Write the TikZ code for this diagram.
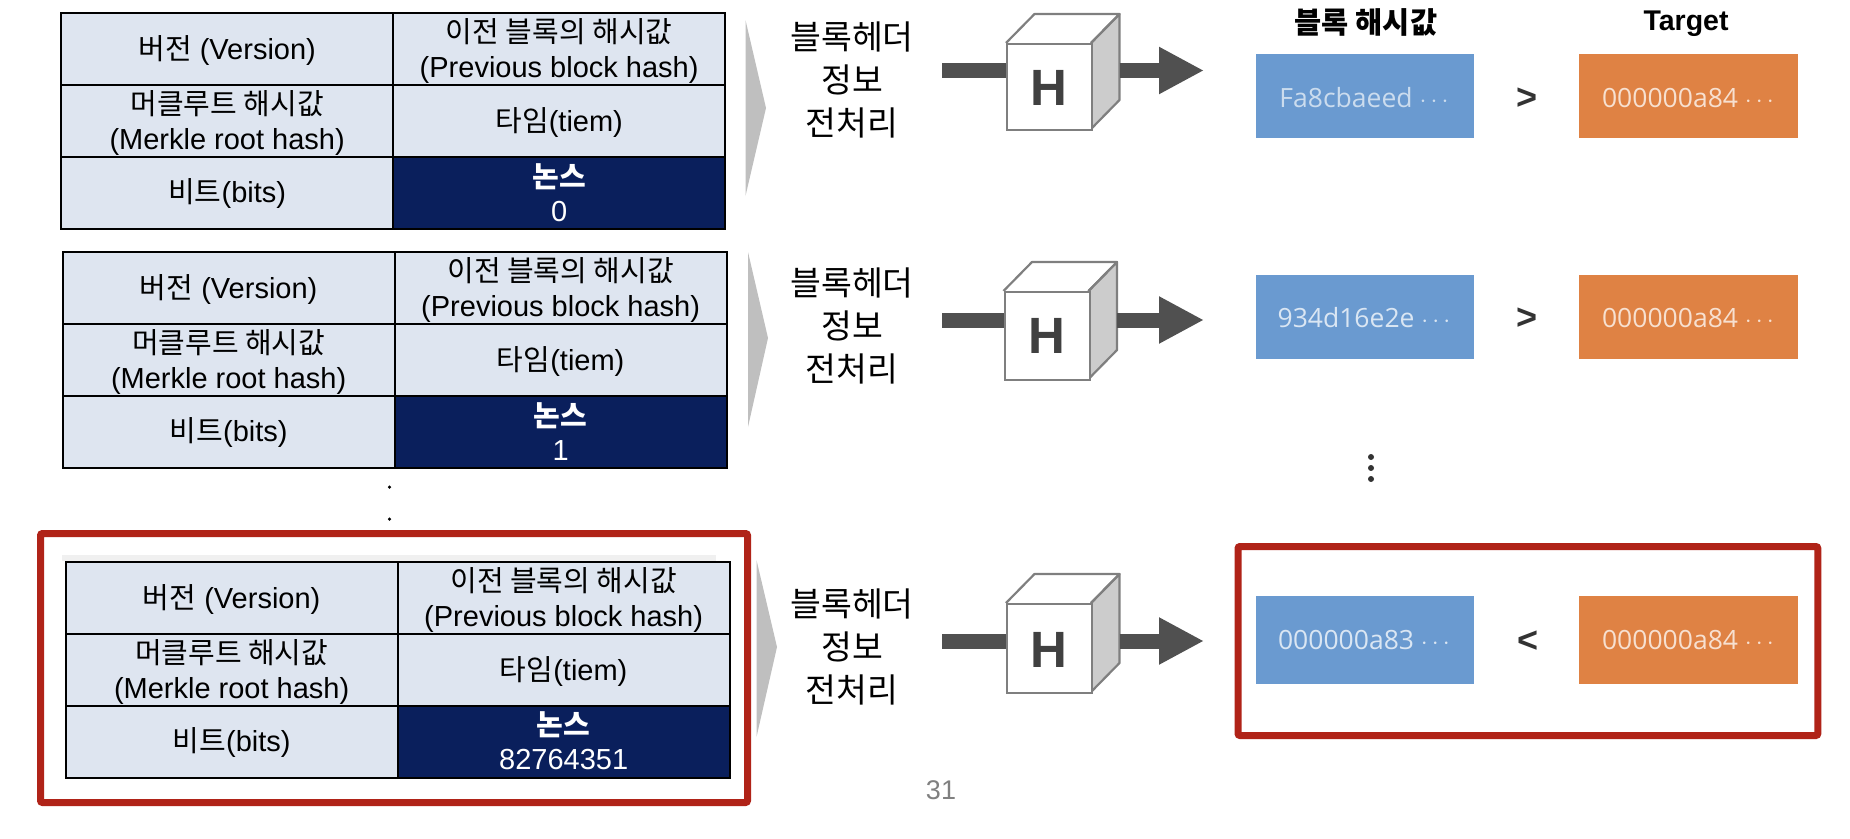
\documentclass[tikz,border=0pt]{standalone}
\usepackage{fontspec}
\setmainfont{Liberation Sans}
\newfontfamily\kr{Noto Sans CJK KR}
\newfontfamily\uif{Open Sans}
\usetikzlibrary{arrows.meta}
\definecolor{cellfill}{HTML}{DEE5F0}
\definecolor{noncefill}{HTML}{0A1F5C}
\definecolor{chev}{HTML}{BFBFBF}
\definecolor{barcol}{HTML}{505050}
\definecolor{cubeline}{HTML}{7F7F7F}
\definecolor{cubeside}{HTML}{CCCCCC}
\definecolor{hashblue}{HTML}{6A9AD0}
\definecolor{hashorange}{HTML}{DF8244}
\definecolor{redbox}{HTML}{B02318}
\tikzset{
  x=1pt,y=-1pt,
  cell/.style={draw=black,line width=2.3pt,fill=cellfill,minimum width=332pt,minimum height=72pt,inner sep=0pt,anchor=north west},
  nonce/.style={cell,fill=noncefill},
  celltext/.style={inner sep=0pt,align=center,font=\fontsize{29}{35}\selectfont},
  prep/.style={align=center,inner sep=0pt,font=\kr\fontsize{33.5}{43}\selectfont},
  cubeface/.style={draw=cubeline,line width=2.2pt,line join=round},
  bar/.style={draw=barcol,line width=15pt},
  bararrow/.style={bar,-{Triangle[length=45pt,width=44pt]}},
  hbox/.style={inner sep=0pt,minimum width=218.6pt,anchor=north west},
  hashtxt/.style={inner sep=0pt,font=\uif\fontsize{26.5}{30}\selectfont},
  cmp/.style={inner sep=0pt,text=black!80,font=\bfseries\fontsize{36}{36}\selectfont},
  highlight/.style={draw=redbox,line width=7pt,rounded corners=2pt},
  dotfill/.style={circle,fill=#1,inner sep=0pt,minimum size=5pt},
}
\newcommand{\blocktable}[4]{%
  \node[cell] (#1v) at (#2,#3) {};
  \node[cell] (#1p) at (#2+332,#3) {};
  \node[cell] (#1m) at (#2,#3+72) {};
  \node[cell] (#1t) at (#2+332,#3+72) {};
  \node[cell] (#1b) at (#2,#3+144) {};
  \node[nonce] (#1n) at (#2+332,#3+144) {};
  \node[celltext] (#1vt) at ([yshift=-1.5pt]#1v.center) {{\kr 버전} (Version)};
  \node[celltext] (#1pt) at ([yshift=-2pt]#1p.center) {{\kr 이전 블록의 해시값}\\(Previous block hash)};
  \node[celltext] (#1mt) at ([yshift=-2pt]#1m.center) {{\kr 머클루트 해시값}\\(Merkle root hash)};
  \node[celltext] (#1tt) at ([yshift=-1.5pt]#1t.center) {{\kr 타임}(tiem)};
  \node[celltext] (#1bt) at ([yshift=-0.5pt]#1b.center) {{\kr 비트}(bits)};
  \node[celltext,text=white,font=\fontsize{29}{34}\selectfont] (#1nt) at ([yshift=0.5pt]#1n.center) {{\kr\bfseries 논스}\\#4};
}
\newcommand{\hcube}[6]{% id, x front left, y front top, y front bottom, arrow y, H y
  \fill[cubeside] (#2+85,#3) -- (#2+113.5,#3-29) -- (#2+113.5,#4-29) -- (#2+85,#4) -- cycle;
  \draw[cubeface] (#2,#3) -- (#2+28.5,#3-29) -- (#2+113.5,#3-29) -- (#2+85,#3);
  \draw[cubeface] (#2+85,#3) -- (#2+113.5,#3-29) -- (#2+113.5,#4-29) -- (#2+85,#4);
  \coordinate (#1in) at (942,#5);
  \coordinate (#1out) at (#2+113.5,#5);
  \coordinate (#1tip) at (1204,#5);
  \node[draw=cubeline,line width=2.2pt,fill=white,minimum width=85pt,minimum height=#4-#3,anchor=north west,inner sep=0pt] (#1) at (#2,#3) {};
  \node[inner sep=0pt,text=black!75,font=\bfseries\fontsize{51}{51}\selectfont] (#1h) at (#2+43,#6) {H};
  \draw[bar] (#1in) -- (#1.west |- #1in);
  \draw[bararrow] (#1out) -- (#1tip);
}
\begin{document}
\begin{tikzpicture}
\useasboundingbox (0,0) rectangle (1850,838);
% tables
\blocktable{a}{60}{11.7}{0}
\blocktable{b}{61.5}{250.5}{1}
\fill[black!6] (62,555) rectangle (716,560.5);
\blocktable{c}{64.5}{560.5}{82764351}
% dots
\node[dotfill=black,minimum size=3.5pt] (dt1) at (389.5,487) {};
\node[dotfill=black,minimum size=3.5pt] (dt2) at (389.5,519) {};
% chevrons
\fill[chev] (745.5,20) -- (766,108) -- (745.5,196) -- cycle;
\fill[chev] (748,252) -- (768,338) -- (748,427) -- cycle;
\fill[chev] (756.5,560) -- (777,647) -- (756.5,737) -- cycle;
% preprocessing labels
\node[prep] (pa) at (852,80) {블록헤더\\정보\\전처리};
\node[prep] (pb) at (852,326) {블록헤더\\정보\\전처리};
\node[prep] (pc) at (852,647) {블록헤더\\정보\\전처리};
% cubes
\hcube{ca}{1006}{43}{129}{70.5}{88}
\hcube{cb}{1003.5}{291}{379}{320}{336}
\hcube{cc}{1006}{603}{692}{641}{650}
% headers
\node[inner sep=0pt,font=\kr\bfseries\fontsize{29.5}{30}\selectfont] (h1) at (1366,22) {블록 해시값};
\node[inner sep=0pt,font=\bfseries\fontsize{28.5}{30}\selectfont] (h2) at (1686,24) {Target};
% hash boxes
\node[hbox,fill=hashblue,minimum height=84pt] (ba) at (1255.6,54) {};
\node[hbox,fill=hashorange,minimum height=84pt] (oa) at (1579,54) {};
\node[hbox,fill=hashblue,minimum height=84pt] (bb) at (1255.6,275) {};
\node[hbox,fill=hashorange,minimum height=84pt] (ob) at (1579,275) {};
\node[hbox,fill=hashblue,minimum height=88pt] (bc) at (1255.6,596) {};
\node[hbox,fill=hashorange,minimum height=88pt] (oc) at (1579,596) {};
% hash text
\node[hashtxt,text=hashblue!35!white] (ta) at (1364,98) {Fa8cbaeed $\cdots$};
\node[hashtxt,text=hashorange!25!white] (tb) at (1688,98) {000000a84 $\cdots$};
\node[hashtxt,text=hashblue!25!white] (tc) at (1364,318) {934d16e2e $\cdots$};
\node[hashtxt,text=hashorange!25!white] (td) at (1688,318) {000000a84 $\cdots$};
\node[hashtxt,text=hashblue!25!white] (te) at (1364,640) {000000a83 $\cdots$};
\node[hashtxt,text=hashorange!25!white] (tf) at (1688,640) {000000a84 $\cdots$};
% comparisons
\node[cmp] (ga) at (1527,99) {>};
\node[cmp] (gb) at (1527,319) {>};
\node[cmp] (gc) at (1528,642) {<};
% vertical dots
\node[dotfill=black!80,minimum size=6pt] (v1) at (1371,457) {};
\node[dotfill=black!80,minimum size=6pt] (v2) at (1371,468) {};
\node[dotfill=black!80,minimum size=6pt] (v3) at (1371,479) {};
% red highlights
\draw[highlight] (40.5,533.5) rectangle (747.5,802.5);
\draw[highlight] (1238,546.5) rectangle (1817.8,735.5);
% page number
\node[inner sep=0pt,text=black!50,font=\fontsize{27}{30}\selectfont] (pg) at (941,790) {31};
\end{tikzpicture}
\end{document}
